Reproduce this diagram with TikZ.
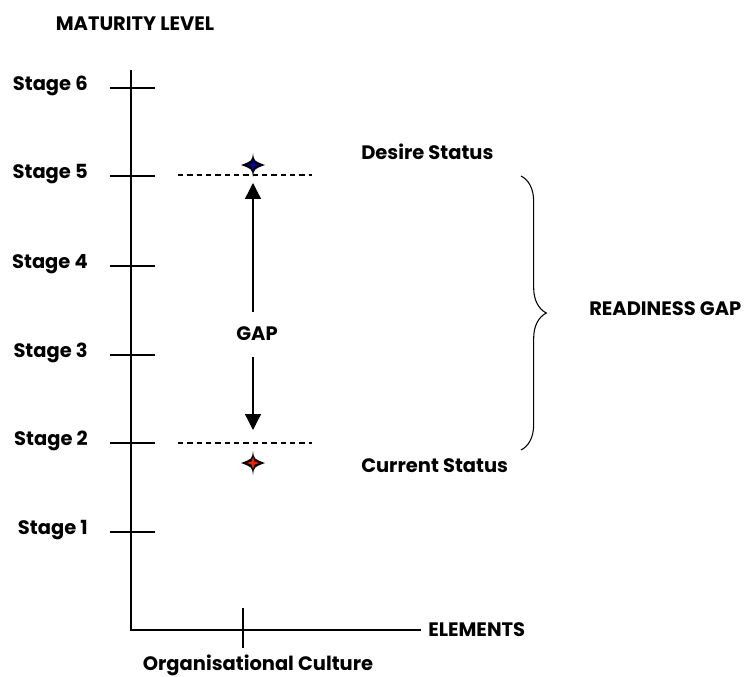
\documentclass[tikz,border=0pt]{standalone}
\usepackage{fontspec}
\setmainfont{Poppins}
\usetikzlibrary{positioning,arrows.meta,decorations.pathreplacing}

\begin{document}
\begin{tikzpicture}[
  x=0.75pt, y=-0.75pt,
  font=\bfseries\fontsize{14.6}{17}\selectfont,
  axis/.style={line width=1pt},
  level/.style={line width=0.8pt, dash pattern=on 4pt off 3pt},
  gaparrow/.style={-{Triangle[length=12pt,width=12pt]}, line width=1pt},
  tag/.style={inner sep=0pt},
  pics/sparkle/.style={code={
    \fill[black] (0,-12) .. controls (1,-4) .. (12,0) .. controls (1,4) .. (0,12)
      .. controls (-1,4) .. (-12,0) .. controls (-1,-4) .. cycle;
    \fill[#1] (0,-6) -- (1.5,-1.5) -- (6,0) -- (1.5,1.5) -- (0,6) -- (-1.5,1.5) -- (-6,0) -- (-1.5,-1.5) -- cycle;
  }},
]

\useasboundingbox (0,0) rectangle (753,677);

% The two axes.
\coordinate (ytop) at (131,70);
\coordinate (origin) at (131,630);
\coordinate (xend) at (421,630);
\draw[axis] (ytop) -- (origin) -- (xend);

% Maturity stages with their ticks.
\foreach \n/\y in {6/88,5/176,4/266,3/355,2/443,1/532} {
  \draw[axis] (110,\y) -- (155,\y);
  \node[tag, anchor=east] (stage\n) at (88,\y-2) {Stage \n};
}

\node[tag] (maturity) at (135,24) {MATURITY LEVEL};
\node[tag, anchor=west] (elements) at (428,630) {ELEMENTS};

% Element on the horizontal axis.
\coordinate (culturetick) at (243,630);
\draw[axis] (243,608) -- (243,648);
\node[tag] (culture) at (258,665) {Organisational Culture};

% Desired and current levels.
\draw[level] (178,175) -- (312,175);
\draw[level] (178,443) -- (312,443);
\pic at (253,165) {sparkle={blue!60!black}};
\pic at (253,463) {sparkle={red!80!orange}};
\node[tag, anchor=west] (desire) at (361,152) {Desire Status};
\node[tag, anchor=west] (current) at (361,466) {Current Status};

% Gap between the two levels.
\node[tag] (gap) at (257,334) {GAP};
\coordinate (gaptop) at (253,312);
\coordinate (gapbottom) at (253,357);
\coordinate (desiretip) at (253,183);
\coordinate (currenttip) at (253,430);
\draw[gaparrow] (gaptop) -- (desiretip);
\draw[gaparrow] (gapbottom) -- (currenttip);

% Brace over the readiness gap.
\draw[decorate, decoration={brace, amplitude=19pt}, line width=0.8pt]
  (521,176) -- (521,450);
\node[tag, anchor=west] (readiness) at (589,309) {READINESS GAP};

\end{tikzpicture}
\end{document}
